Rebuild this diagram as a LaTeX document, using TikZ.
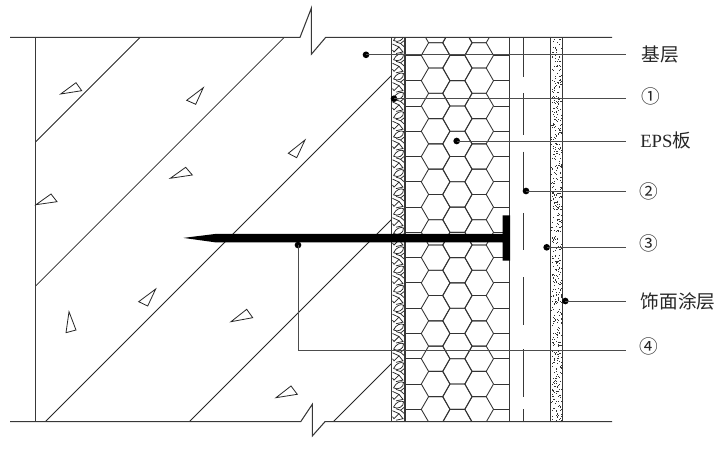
\documentclass[tikz,border=0pt]{standalone}
\usepackage{fontspec}
\setmainfont{Liberation Serif}
\newfontfamily\cjk{Noto Sans CJK SC}
\tikzset{
  wall/.style={line width=0.8pt,draw=black!78},
  thinline/.style={line width=0.55pt,draw=black!85},
  hexline/.style={line width=0.65pt,draw=black!80},
  stone/.style={line width=0.55pt,draw=black!85},
  leader/.style={line width=0.7pt,draw=black!70},
  dotmark/.style={circle,fill=black,inner sep=0pt,minimum size=5pt},
  lab/.style={inner sep=0pt,font=\fontsize{14pt}{14pt}\selectfont\cjk,text=black!85},
  labe/.style={inner sep=0pt,font=\fontsize{14pt}{14pt}\selectfont,text=black!85},
  aggregate/.style={line width=0.6pt,draw=black!85}
}
\begin{document}
\begin{tikzpicture}[x=0.75pt,y=-0.75pt]
\useasboundingbox (0,0) rectangle (722,452);
% diagonal hatch of base wall
\foreach \s/\xa/\xb in {177.5/35.7/140,321.7/35.7/284.2,467/45.3/391.7,611/189.3/391.7,755/333.3/391.7}{
  \draw[thinline] (\xa,\s-\xa) -- (\xb,\s-\xb);
}
% aggregate triangles
\foreach \p/\q/\r in {
  {60.7,94}/{76,82.7}/{81.7,90.7},
  {186.7,100.3}/{203.3,87.7}/{195.7,104.3},
  {170.3,178.3}/{185.7,167.3}/{192.3,175},
  {36,204.7}/{51,194}/{57,201.7},
  {288.3,153.3}/{305,140}/{296.7,157.7},
  {138.7,301.7}/{155.7,289}/{147.7,306},
  {69,311.7}/{76,330}/{66,332.7},
  {231,321.7}/{246.7,309.3}/{252.7,317.7},
  {276,397.7}/{291,386}/{297.3,394.3}}{
  \draw[aggregate] (\p) -- (\q) -- (\r) -- cycle;
}
% hexagons
\begin{scope}
\clip (405,37.5) rectangle (509.3,421.7);
\foreach \k in {-1,...,15}{
  \pgfmathsetmacro{\ya}{55.4+25.28*\k}
  \pgfmathsetmacro{\yb}{\ya+12.64}
  \foreach \cx in {435.6,479.2}{
    \draw[hexline] (\cx-14.3,\ya) -- (\cx-7,\ya-12.64) -- (\cx+7,\ya-12.64) -- (\cx+14.3,\ya) -- (\cx+7,\ya+12.64) -- (\cx-7,\ya+12.64) -- cycle;
  }
  \draw[hexline] (457.4-14.5,\yb) -- (457.4-7.4,\yb-12.64) -- (457.4+7.4,\yb-12.64) -- (457.4+14.5,\yb) -- (457.4+7.4,\yb+12.64) -- (457.4-7.4,\yb+12.64) -- cycle;
  \draw[hexline] (405,\ya) -- (421.3,\ya) (493.5,\ya) -- (509.3,\ya);
}
\end{scope}
% cobbles in the adhesive layer
\begin{scope}
\clip (392,37.5) rectangle (405,421.7);
\foreach \k in {0,...,19}{
  \pgfmathsetmacro{\y}{34+19.3*\k}
  \draw[stone] (393.5,\y+6.5) .. controls (396,\y+1) and (401,\y-0.5) .. (403.5,\y+1) .. controls (404,\y+6) and (398,\y+9) .. (393.5,\y+6.5);
  \draw[stone] (405,\y+6) -- (400.5,\y+9.5) -- (404.5,\y+13) -- (405,\y+15);
  \draw[stone] (392.5,\y+10) -- (399,\y+13) -- (394,\y+18) -- (392.5,\y+16);
  \draw[stone] (399,\y+13) -- (403,\y+18) -- (396,\y+19.5);
  \draw[stone] (400.5,\y+9.5) -- (396,\y+8);
}
\end{scope}
% stipple of finish coat
\pgfmathsetseed{4217}
\foreach \i in {1,...,620}{
  \pgfmathsetmacro{\dx}{551.3+rnd*10.3}
  \pgfmathsetmacro{\dy}{38+rnd*383}
  \fill[black!80] (\dx,\dy) rectangle ++(1,1);
}
% vertical layer lines
\foreach \x in {391.8,405,509.3,550.3,562.5}{
  \draw[wall] (\x,37.5) -- (\x,421.7);
}
\draw[wall] (35.7,37.5) -- (35.7,421.7);
% mesh dashes
\foreach \ya/\yb in {37.5/77.3,93.3/135,151.7/191,213/250,277.3/325.3,349.3/397.3,409.3/421.7}{
  \draw[wall] (523.3,\ya) -- (523.3,\yb);
}
% outline with break marks
\draw[wall] (10,37.4) -- (300,37.4) -- (311.3,8.3) -- (311.3,54.3) -- (325.7,37.4) -- (612,37.4);
\draw[wall] (10,421.7) -- (300.7,421.7) -- (312.3,404.3) -- (312.3,436) -- (325,421.7) -- (612,421.7);
% anchor
\fill[black] (183.3,237.9) -- (215,234) -- (502.5,234) -- (502.5,215.3) -- (510,215.3) -- (510,260.7) -- (502.5,260.7) -- (502.5,242.3) -- (215,242.3) -- cycle;
% leaders
\node[dotmark] (d1) at (366,54.8) {};
\node[dotmark] (d2) at (394,98.7) {};
\node[dotmark] (d3) at (456.7,141) {};
\node[dotmark] (d4) at (526,191) {};
\node[dotmark] (d5) at (546.7,247.3) {};
\node[dotmark] (d6) at (565.3,301) {};
\node[dotmark] (d7) at (298,245) {};
\coordinate (e1) at (626,54.8);
\coordinate (e2) at (626,98.7);
\coordinate (e3) at (626,141);
\coordinate (e4) at (626,191);
\coordinate (e5) at (626,247.3);
\coordinate (e6) at (626,301);
\coordinate (e7) at (626,350.7);
\foreach \n in {1,...,6}{ \draw[leader] (d\n.center) -- (e\n); }
\draw[leader] (d7.center) |- (e7);
% labels
\node[lab] (t1) at (660,54) {基层};
\node[lab] (t2) at (650.5,96.5) {①};
\node[labe,anchor=west] (t3) at (640,140) {EPS{\cjk 板}};
\node[lab] (t4) at (649,191.5) {②};
\node[lab] (t5) at (649,243) {③};
\node[lab] (t6) at (678,301.5) {饰面涂层};
\node[lab] (t7) at (649,346.5) {④};
\end{tikzpicture}
\end{document}
